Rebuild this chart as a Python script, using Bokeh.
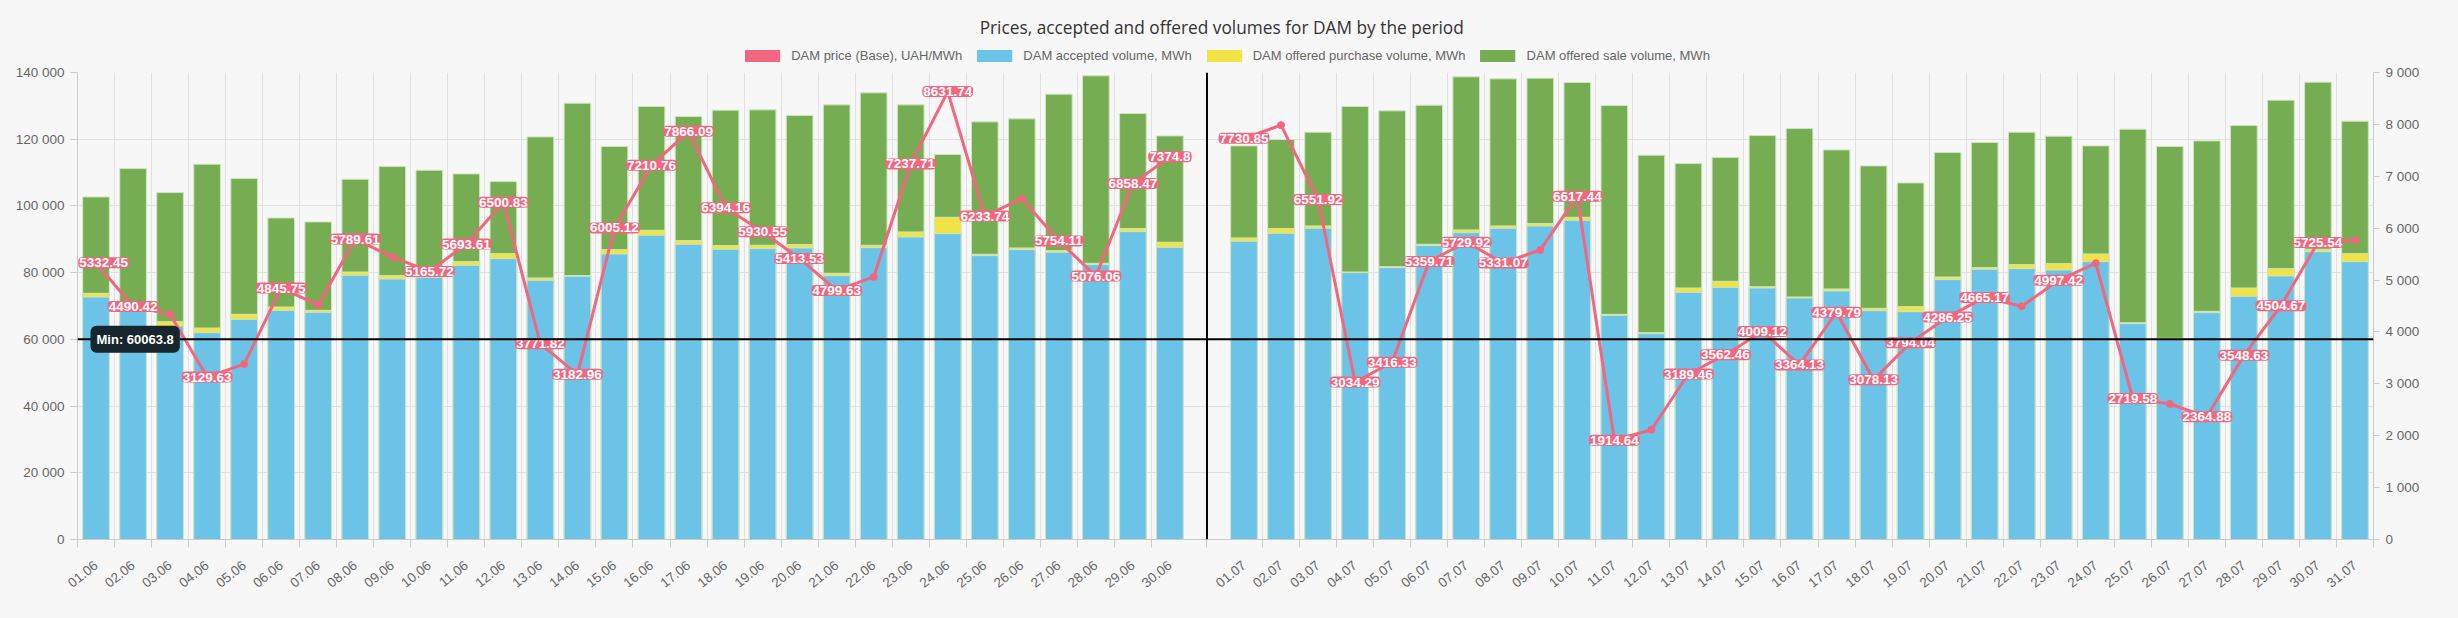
import math
from bokeh.plotting import figure
from bokeh.layouts import column
from bokeh.models import (ColumnDataSource, Range1d, LinearAxis, FixedTicker, Span,
                          Label, Legend, LegendItem)
from bokeh.embed import file_html
from bokeh.resources import INLINE
from bokeh.core.properties import value

# ---------------- data ----------------
june_dates = ["01.06", "02.06", "03.06", "04.06", "05.06", "06.06", "07.06", "08.06", "09.06", "10.06",
              "11.06", "12.06", "13.06", "14.06", "15.06", "16.06", "17.06", "18.06", "19.06", "20.06",
              "21.06", "22.06", "23.06", "24.06", "25.06", "26.06", "27.06", "28.06", "29.06", "30.06"]
july_dates = ["01.07", "02.07", "03.07", "04.07", "05.07", "06.07", "07.07", "08.07", "09.07", "10.07",
              "11.07", "12.07", "13.07", "14.07", "15.07", "16.07", "17.07", "18.07", "19.07", "20.07",
              "21.07", "22.07", "23.07", "24.07", "25.07", "26.07", "27.07", "28.07", "29.07", "30.07", "31.07"]

june_price = [5332.45, 4490.42, 4340, 3129.63, 3380, 4845.75, 4520, 5789.61, 5445, 5165.72,
              5693.61, 6500.83, 3771.82, 3182.96, 6005.12, 7210.76, 7866.09, 6394.16, 5930.55, 5413.53,
              4799.63, 5060, 7237.71, 8631.74, 6233.74, 6570, 5754.11, 5076.06, 6858.47, 7374.8]
july_price = [7730.85, 7985, 6551.92, 3034.29, 3416.33, 5359.71, 5729.92, 5331.07, 5580, 6617.44,
              1914.64, 2115, 3189.46, 3562.46, 4009.12, 3364.13, 4379.79, 3078.13, 3794.04, 4286.25,
              4665.17, 4495, 4997.42, 5324, 2719.58, 2612, 2364.88, 3548.63, 4504.67, 5725.54, 5767]

june_accepted = [72700, 70000, 64000, 62000, 66000, 68700, 68100, 79200, 78100, 78600,
                 82200, 84200, 77700, 78900, 85600, 91200, 88500, 87000, 87200, 87400,
                 79100, 87500, 90700, 91700, 85100, 86900, 86100, 82400, 92300, 87600]
july_accepted = [89400, 91800, 93300, 80000, 81500, 88100, 92000, 93300, 94000, 95700,
                 67200, 61700, 74100, 75600, 75400, 72400, 74500, 68600, 68300, 77900,
                 81000, 81200, 80800, 83300, 64700, 60063.8, 68000, 72900, 79000, 86300, 83300]

june_purchase = [73800, 71000, 65300, 63400, 67500, 69700, 68700, 80200, 79100, 79500,
                 83300, 85700, 78400, 79100, 86900, 92700, 89600, 88100, 88200, 88400,
                 79800, 88200, 92200, 96600, 85500, 87400, 86600, 82800, 93200, 89100]
july_purchase = [90400, 93200, 94000, 80200, 81800, 88500, 92800, 94000, 94700, 96600,
                 67500, 62000, 75400, 77400, 75800, 72700, 75100, 69300, 69800, 78700,
                 81500, 82400, 82700, 85600, 65000, 60300, 68400, 75400, 81200, 87000, 85700]

june_sale = [102700, 111200, 104000, 112500, 108200, 96400, 95200, 108000, 111800, 110700,
             109600, 107300, 120700, 130800, 117800, 129800, 126800, 128700, 128800, 127100,
             130300, 133900, 130300, 115400, 125200, 126100, 133500, 139000, 127700, 121000]
july_sale = [118000, 119900, 122100, 129800, 128500, 130200, 138700, 138100, 138300, 137000,
             130100, 115200, 112700, 114500, 121100, 123200, 116800, 112000, 106900, 116000,
             119000, 122100, 120900, 118000, 123000, 117800, 119500, 124100, 131700, 137100, 125400]

# dates whose price label is hidden in the original (overlap avoidance)
unlabeled = ["03.06", "05.06", "07.06", "09.06", "22.06", "26.06",
             "02.07", "09.07", "12.07", "22.07", "24.07", "26.07", "31.07"]

volume_ticks = [0, 20000, 40000, 60000, 80000, 100000, 120000, 140000]
price_ticks = [0, 1000, 2000, 3000, 4000, 5000, 6000, 7000, 8000, 9000]

title_text = "Prices, accepted and offered volumes for DAM by the period"
series_names = ["DAM price (Base), UAH/MWh", "DAM accepted volume, MWh",
                "DAM offered purchase volume, MWh", "DAM offered sale volume, MWh"]

# ---------------- styles ----------------
BG = "#f7f7f7"
PINK = "#f2667f"
BLUE = "#6bc3e8"
YELLOW = "#f0e343"
GREEN = "#77ad52"
EDGE = "#cfe5c2"
GRID = "#e0e0e0"
AXIS = "#cacaca"
TXT = "#666666"
FONT = "Liberation Sans"
W = 2442
HEADER_H = 64
MAIN_H = 538
BORDER_L, BORDER_R = 77, 69

NaN = float("nan")
dates = june_dates + [""] + july_dates
gap = len(june_dates)
xs = list(range(len(dates)))
price = june_price + [NaN] + july_price
accepted = june_accepted + [NaN] + july_accepted
purchase = june_purchase + [NaN] + july_purchase
sale = june_sale + [NaN] + july_sale

src = ColumnDataSource(dict(x=xs, price=price, accepted=accepted, purchase=purchase, sale=sale))

# ---------------- main chart ----------------
p = figure(width=W, height=MAIN_H, output_backend="svg", toolbar_location=None,
           x_range=Range1d(-0.5, len(dates) - 0.5), y_range=Range1d(0, 140000),
           min_border_left=BORDER_L, min_border_right=BORDER_R, min_border_bottom=63, min_border_top=8,
           background_fill_color=BG, border_fill_color=BG, outline_line_color=None)
p.extra_y_ranges = {"price": Range1d(0, 9000)}


def style_axis(ax):
    ax.axis_line_color = AXIS
    ax.major_tick_line_color = AXIS
    ax.minor_tick_line_color = AXIS
    ax.major_label_text_color = TXT
    ax.major_label_text_font = FONT
    ax.major_label_text_font_size = "13.5px"


yl = p.yaxis[0]
yl.ticker = FixedTicker(ticks=volume_ticks)
yl.major_label_overrides = {t: f"{t:,}".replace(",", " ") for t in volume_ticks}
yl.major_tick_out = 7
yl.major_tick_in = 0
yl.minor_tick_out = 0
yl.minor_tick_in = 0
yl.major_label_standoff = 6
style_axis(yl)

yr = LinearAxis(y_range_name="price", ticker=FixedTicker(ticks=price_ticks))
yr.major_label_overrides = {t: f"{t:,}".replace(",", " ") for t in price_ticks}
yr.major_tick_out = 6
yr.major_tick_in = 0
yr.minor_tick_out = 0
yr.minor_tick_in = 0
yr.major_label_standoff = 6
style_axis(yr)
p.add_layout(yr, "right")

label_pos = [i for i, d in enumerate(dates) if d]
bounds = [i + 0.5 for i in range(-1, len(dates)) if i not in (gap - 1, gap)] + [gap]
bounds.sort()
xa = p.xaxis[0]
xa.ticker = FixedTicker(ticks=label_pos, minor_ticks=bounds)
xa.major_label_overrides = {i: d for i, d in enumerate(dates) if d}
xa.major_label_orientation = 0.68
xa.major_tick_out = 0
xa.major_tick_in = 0
xa.minor_tick_out = 8
xa.minor_tick_in = 0
xa.major_label_standoff = 16
style_axis(xa)

p.xgrid.ticker = FixedTicker(ticks=bounds)
p.xgrid.grid_line_color = GRID
p.ygrid.ticker = FixedTicker(ticks=volume_ticks)
p.ygrid.grid_line_color = GRID

# bars (overlapping, each drawn from zero)
p.vbar(x="x", top="sale", width=0.72, source=src, fill_color=GREEN, line_color=EDGE, line_width=1)
p.vbar(x="x", top="purchase", width=0.72, source=src, fill_color=YELLOW, line_color=EDGE, line_width=1)
p.vbar(x="x", top="accepted", width=0.72, source=src, fill_color=BLUE, line_color=EDGE, line_width=1)

# price line
p.line(x="x", y="price", source=src, y_range_name="price", line_color=PINK, line_width=3)
p.scatter(x="x", y="price", source=src, y_range_name="price", size=7, fill_color=PINK, line_color=PINK)

# reference lines
min_acc = min(v for v in accepted if not math.isnan(v))
p.add_layout(Span(location=min_acc, dimension="width", line_color="black", line_width=2))
p.add_layout(Span(location=gap, dimension="height", line_color="black", line_width=2))

# price labels (nudged inward only where a box would be cut by the plot edge)
cat_px = (W - BORDER_L - BORDER_R) / len(dates)
lx, ly, lt, lo = [], [], [], []
for i, d in enumerate(dates):
    if d and d not in unlabeled:
        t = str(price[i])
        half = len(t) * 3.6 + 1
        left_room = (i + 0.5) * cat_px
        right_room = (len(dates) - i - 0.5) * cat_px
        off = max(0.0, half - left_room) - max(0.0, half - right_room)
        lx.append(i)
        ly.append(price[i])
        lt.append(t)
        lo.append(off)
lsrc = ColumnDataSource(dict(x=lx, y=ly, t=lt, off=lo))
p.text(x="x", y="y", text="t", x_offset="off", source=lsrc, y_range_name="price",
       text_align="center", text_baseline="middle", text_color="white",
       text_font=value(FONT), text_font_style="bold", text_font_size="13.5px",
       text_line_height=1.0, background_fill_color=PINK, border_radius=4, padding=1)

p.add_layout(Label(x=-0.5, y=min_acc, x_offset=13, text=f"Min: {min_acc}",
                   text_align="left", text_baseline="middle", text_color="white",
                   text_font=FONT, text_font_style="bold", text_font_size="13px",
                   background_fill_color="#17262c", padding=6, border_radius=6))

# ---------------- header: title + legend ----------------
h = figure(width=W, height=HEADER_H, output_backend="svg", toolbar_location=None,
           x_range=Range1d(0, W), y_range=Range1d(0, HEADER_H),
           min_border=0, background_fill_color=BG, border_fill_color=BG, outline_line_color=None)
h.axis.visible = False
h.grid.visible = False
h.add_layout(Label(x=1217, y=HEADER_H - 27, text=title_text,
                   text_align="center", text_baseline="middle", text_color="#333333",
                   text_font="Open Sans", text_font_size="17.3px"))

# zero-height bars: only used to provide legend swatches
swatches = []
for col in (PINK, BLUE, YELLOW, GREEN):
    swatches.append(h.vbar(x="x", top=0, bottom=0, width=0.72, source=src,
                           fill_color=col, line_color=None))
legend = Legend(items=[LegendItem(label=n, renderers=[r]) for n, r in zip(series_names, swatches)],
                orientation="horizontal", location="top_center",
                label_text_font=FONT, label_text_font_size="13px", label_text_color=TXT,
                glyph_width=44, glyph_height=15, label_height=15, spacing=10, label_standoff=7,
                background_fill_alpha=0, border_line_alpha=0, padding=0, margin=48)
h.add_layout(legend)

layout = column(h, p, spacing=0)
html = file_html(layout, INLINE)
html = html.replace("<head>", "<head><style>html,body{background:#f7f7f7;}</style>", 1)
open("out.html", "w").write(html)
